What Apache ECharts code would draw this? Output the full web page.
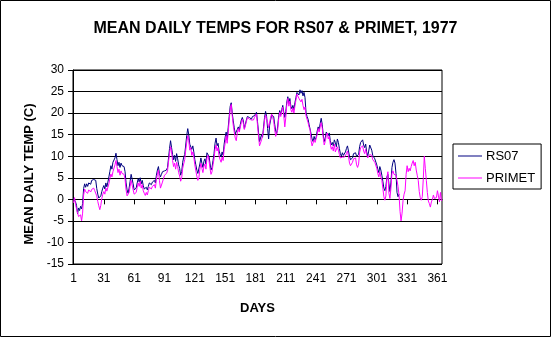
<!DOCTYPE html>
<html>
<head>
<meta charset="utf-8">
<script src="https://cdn.jsdelivr.net/npm/echarts@6/dist/echarts.min.js"></script>
<style>
  html, body { margin: 0; padding: 0; background: #fff; }
  #chart { width: 551px; height: 337px; }
</style>
</head>
<body>
<div id="chart"></div>
<script>
// Mean daily air temperature (deg C), 1977, day-of-year order
const rs07 = [
  0.2, 0.6, -0.6, -1.4, -3.4, -2.0, -2.6, -1.6, -2.2, -1.0,
  2.5, 3.6, 2.8, 3.6, 3.0, 3.8, 4.2, 3.5, 4.4, 4.0,
  4.6, 5.0, 4.4, 2.5, 1.2, 0.3, 0.5, 0.8, 1.8, 2.6,
  3.2, 2.4, 3.8, 2.9, 4.0, 5.2, 6.5, 7.8, 7.0, 8.6,
  8.8, 9.6, 10.7, 9.2, 7.8, 8.6, 7.4, 8.4, 7.8, 8.2,
  7.6, 6.4, 3.8, 2.2, 1.4, 2.6, 4.2, 5.8, 5.4, 3.6,
  2.2, 1.8, 2.6, 3.8, 4.8, 4.0, 5.0, 3.6, 4.4, 3.2,
  2.4, 2.0, 2.8, 2.2, 3.0, 3.8, 4.2, 3.4, 4.0, 3.6,
  4.4, 3.8, 5.6, 6.8, 7.6, 6.0, 5.2, 5.8, 6.4, 6.0,
  6.6, 6.2, 6.8, 7.4, 9.6, 11.8, 13.6, 12.0, 10.4, 9.2,
  10.2, 8.8, 10.6, 9.4, 8.0, 7.2, 5.6, 6.4, 8.6, 9.8,
  10.4, 12.6, 14.8, 16.4, 15.0, 12.8, 13.2, 11.6, 12.4, 11.0,
  9.2, 8.0, 6.8, 6.0, 6.4, 8.2, 9.6, 8.4, 7.4, 8.8,
  9.4, 8.2, 10.8, 11.2, 10.0, 8.4, 6.8, 7.4, 9.0, 10.6,
  13.0, 14.2, 12.4, 13.0, 11.2, 10.4, 9.8, 11.0, 10.2, 12.8,
  14.4, 15.6, 13.8, 16.6, 19.2, 21.6, 22.4, 20.0, 18.2, 16.6,
  15.2, 14.8, 16.2, 16.8, 16.0, 17.4, 18.4, 19.0, 18.2, 16.4,
  16.8, 18.4, 19.2, 19.6, 19.0, 19.4, 18.6, 19.2, 18.8, 19.4,
  19.6, 20.2, 18.0, 15.6, 13.4, 14.2, 15.0, 14.4, 16.8, 19.0,
  20.4, 19.2, 16.4, 14.0, 17.2, 18.4, 19.6, 20.0, 19.2, 17.4,
  15.8, 15.2, 17.0, 19.4, 20.6, 19.6, 20.8, 21.8, 20.2, 19.0,
  20.4, 22.6, 23.8, 22.2, 23.4, 21.6, 21.0, 21.8, 20.8, 22.4,
  23.6, 24.8, 25.0, 24.2, 25.4, 24.6, 25.2, 24.0, 24.8, 23.6,
  20.2, 19.2, 18.6, 17.4, 17.8, 15.2, 14.0, 13.4, 14.6, 13.8,
  14.4, 15.8, 16.8, 16.2, 17.6, 18.8, 17.4, 15.0, 13.4, 14.2,
  15.6, 16.0, 14.8, 15.4, 13.6, 12.6, 13.2, 12.4, 13.8, 13.2,
  12.2, 14.0, 13.2, 11.8, 10.6, 10.0, 10.8, 10.2, 10.6, 11.0,
  11.8, 12.4, 11.2, 10.0, 9.2, 8.8, 9.6, 10.6, 10.2, 10.8,
  10.0, 9.8, 10.4, 12.2, 13.2, 13.0, 13.8, 12.6, 12.0, 12.8,
  11.0, 10.0, 11.2, 12.6, 13.0, 11.4, 10.2, 9.8, 9.4, 9.8,
  8.0, 7.0, 6.2, 7.6, 6.8, 5.6, 4.2, 2.6, 2.0, 3.0,
  5.2, 5.8, 3.6, 1.8, 4.0, 7.4, 8.6, 9.2, 8.4, 6.0,
  1.6, 0.6, 1.2
];

const primet = [
  -0.8, 0.4, -1.2, -2.2, -2.6, -4.0, -4.4, -3.6, -5.0, -3.2,
  1.0, 2.4, 1.8, 2.0, 1.4, 2.2, 2.6, 1.7, 2.3, 1.9,
  2.6, 2.0, 2.4, 0.8, -0.5, -1.5, -2.4, -1.4, 0.2, 1.2,
  1.8, 1.2, 2.6, 1.9, 2.8, 3.6, 4.8, 5.9, 5.2, 6.4,
  6.8, 8.0, 9.0, 7.6, 6.2, 7.0, 5.6, 6.6, 6.0, 6.4,
  5.8, 4.6, 2.2, 0.8, 0.4, 1.6, 3.0, 4.4, 4.0, 2.2,
  1.2, 0.8, 1.6, 2.8, 3.8, 3.0, 4.2, 2.6, 3.4, 2.0,
  1.4, 0.9, 1.6, 1.0, 2.0, 2.8, 3.2, 2.4, 3.0, 2.6,
  3.4, 2.6, 4.6, 5.8, 6.8, 4.4, 2.6, 2.2, 4.0, 4.8,
  5.6, 5.2, 6.0, 6.6, 8.8, 10.6, 12.2, 11.0, 9.0, 7.6,
  8.4, 7.0, 8.6, 7.6, 6.2, 5.4, 4.2, 5.0, 7.2, 8.2,
  9.2, 11.4, 13.2, 14.8, 13.6, 11.4, 12.0, 10.2, 11.0, 9.8,
  8.0, 6.6, 5.4, 4.4, 5.0, 7.0, 8.4, 7.2, 6.2, 7.6,
  8.2, 7.0, 9.6, 10.2, 9.0, 7.2, 5.8, 6.4, 8.0, 9.4,
  11.6, 12.6, 11.2, 12.0, 10.0, 9.2, 8.6, 9.8, 9.0, 11.6,
  13.0, 14.8, 13.0, 15.4, 18.4, 20.8, 22.0, 19.4, 17.2, 15.6,
  14.2, 13.6, 15.4, 16.4, 15.6, 16.8, 17.8, 18.6, 17.6, 16.2,
  16.6, 18.0, 19.0, 19.2, 18.6, 19.0, 18.4, 18.8, 18.4, 19.0,
  19.2, 19.8, 17.2, 14.6, 12.4, 12.0, 13.8, 13.6, 16.0, 18.4,
  19.6, 18.6, 17.8, 16.6, 16.2, 19.0, 19.8, 19.0, 18.2, 16.2,
  14.6, 14.4, 16.2, 18.8, 20.2, 19.2, 20.4, 21.4, 19.4, 16.8,
  19.0, 22.0, 23.4, 21.6, 22.8, 20.8, 20.2, 21.2, 20.0, 21.6,
  23.0, 24.4, 24.6, 23.4, 23.8, 22.6, 23.2, 21.8, 20.8, 21.4,
  19.4, 18.6, 17.8, 16.8, 16.2, 13.6, 12.4, 12.0, 13.8, 13.2,
  13.6, 15.0, 16.4, 15.6, 16.8, 17.8, 16.6, 14.4, 12.6, 13.4,
  14.8, 15.4, 14.0, 14.6, 12.8, 11.6, 12.2, 11.2, 12.8, 11.0,
  10.6, 12.2, 11.4, 10.4, 9.6, 9.2, 9.8, 9.4, 9.8, 10.2,
  10.6, 11.2, 10.0, 8.4, 7.8, 8.0, 8.6, 9.4, 9.0, 9.6,
  8.0, 7.4, 8.2, 10.8, 12.0, 11.6, 12.4, 11.2, 10.6, 11.6,
  10.4, 9.6, 9.8, 10.4, 10.8, 10.2, 9.2, 8.8, 8.6, 8.4,
  7.2, 6.0, 5.2, 6.4, 5.2, 4.4, 2.6, 0.6, -0.2, 0.8,
  5.0, 6.4, 1.4, 0.2, 2.6, 6.0, 6.6, 5.8, 6.2, 5.6,
  4.4, 3.0, 1.0, -2.8, -5.0, -3.2, -0.2, 1.2, 2.0, 5.8,
  7.8, 6.4, 7.2, 6.6, 7.6, 8.4, 9.0, 7.8, 8.6, 6.8,
  5.6, 4.4, 1.8, 0.4, -0.2, 0.6, 4.8, 10.0, 7.2, 4.4,
  1.6, -0.4, -1.0, -1.8, -0.6, 0.0, 1.0, 0.2, -0.2, 0.4,
  2.0, 0.8, -0.6, 1.6, -0.4
];

// Day-of-year categories 1..365
const days = Array.from({ length: 365 }, (_, i) => String(i + 1));

const seriesNames = ['RS07', 'PRIMET'];
const seriesColors = ['#000080', '#ff00ff'];

const FONT = "'Liberation Sans', Arial, sans-serif";

const chart = echarts.init(document.getElementById('chart'), null, { renderer: 'canvas' });

chart.setOption({
  backgroundColor: '#ffffff',
  animation: false,
  title: {
    text: 'MEAN DAILY TEMPS FOR RS07 & PRIMET, 1977',
    left: 'center',
    top: 16,
    textStyle: { fontFamily: FONT, fontSize: 16, fontWeight: 'bold', color: '#000' }
  },
  legend: {
    orient: 'vertical',
    left: 453,
    top: 144,
    padding: [5, 6, 4, 5],
    icon: 'rect',
    itemWidth: 24,
    itemHeight: 1,
    itemGap: 8,
    borderColor: '#000',
    borderWidth: 1,
    backgroundColor: '#fff',
    textStyle: { fontFamily: FONT, fontSize: 13, lineHeight: 14, color: '#000', padding: [0, 0, 0, -1] },
    data: seriesNames
  },
  grid: {
    left: 73,
    right: 109,
    top: 70,
    bottom: 73,
    show: true,
    borderColor: '#000',
    borderWidth: 1,
    backgroundColor: 'transparent'
  },
  xAxis: {
    type: 'category',
    data: days,
    boundaryGap: true,
    name: 'DAYS',
    nameLocation: 'middle',
    nameGap: 38,
    nameTextStyle: { fontFamily: FONT, fontSize: 13, fontWeight: 'bold', color: '#000' },
    axisLine: { lineStyle: { color: '#000', width: 1 } },
    axisTick: { show: true, interval: 29, alignWithLabel: true, length: 5, lineStyle: { color: '#000' } },
    axisLabel: { interval: 29, margin: 9, fontFamily: FONT, fontSize: 12, color: '#000' },
    splitLine: { show: false }
  },
  yAxis: {
    type: 'value',
    min: -15,
    max: 30,
    interval: 5,
    axisLine: { show: true, lineStyle: { color: '#000', width: 1 } },
    axisTick: { show: true, length: 5, lineStyle: { color: '#000' } },
    axisLabel: { margin: 9, fontFamily: FONT, fontSize: 12, color: '#000' },
    splitLine: { show: true, lineStyle: { color: '#000', width: 1 } }
  },
  graphic: [
    {
      type: 'rect',
      shape: { x: 0.5, y: 0.5, width: 550, height: 336 },
      style: { fill: 'none', stroke: '#000', lineWidth: 1 },
      silent: true,
      z: 100
    },
    {
      type: 'text',
      x: 29,
      y: 174,
      rotation: Math.PI / 2,
      style: {
        text: 'MEAN DAILY TEMP (C)',
        fontFamily: FONT,
        fontSize: 13,
        fontWeight: 'bold',
        fill: '#000',
        textAlign: 'center',
        textVerticalAlign: 'middle'
      }
    }
  ],
  series: [
    {
      name: seriesNames[0],
      type: 'line',
      data: rs07,
      symbol: 'none',
      color: seriesColors[0],
      lineStyle: { color: seriesColors[0], width: 1 },
      z: 2
    },
    {
      name: seriesNames[1],
      type: 'line',
      data: primet,
      symbol: 'none',
      color: seriesColors[1],
      lineStyle: { color: seriesColors[1], width: 1 },
      z: 3
    }
  ]
});
</script>
</body>
</html>
